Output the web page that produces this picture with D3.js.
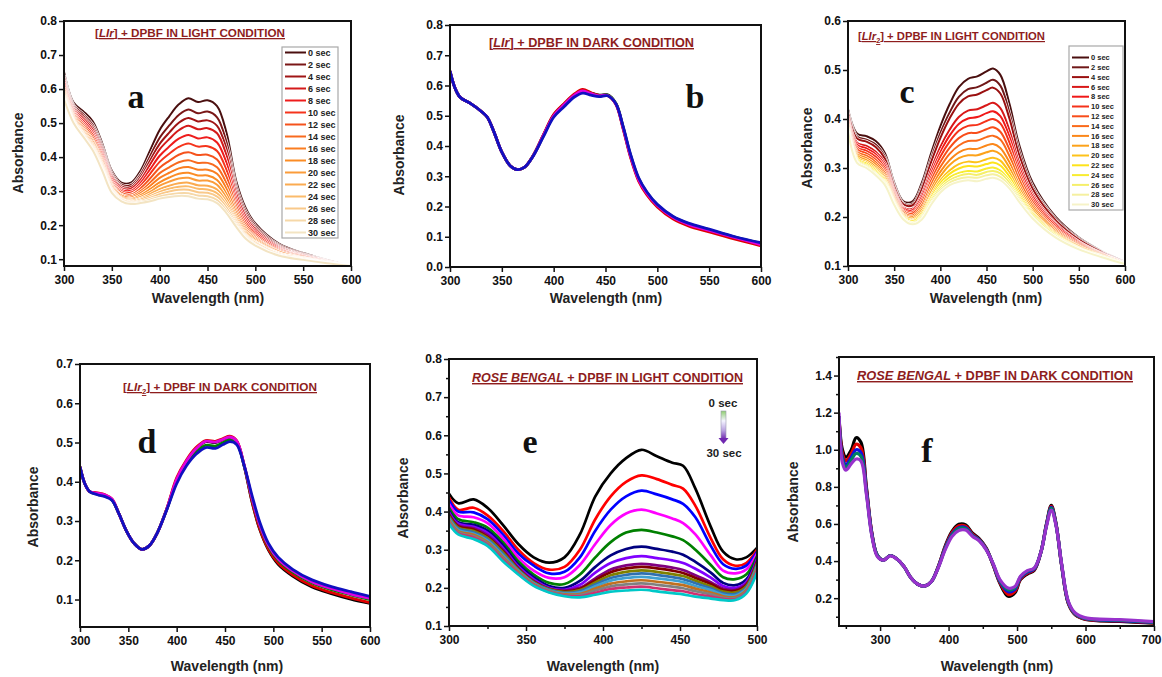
<!DOCTYPE html>
<html><head><meta charset="utf-8">
<script src="https://cdn.jsdelivr.net/npm/d3@7/dist/d3.min.js"></script>
<style>
body{margin:0;background:#fff}
svg{display:block;font-family:"Liberation Sans",Arial,sans-serif}
.tick text{font-weight:bold;font-size:12px;fill:#111}
.tick line{stroke:#111;stroke-width:1.5}
</style></head><body>
<svg id="fig" width="1162" height="677"></svg>
<script>
// ---------- shared labels ----------
const timeLabels = ["0 sec","2 sec","4 sec","6 sec","8 sec","10 sec","12 sec","14 sec","16 sec","18 sec","20 sec","22 sec","24 sec","26 sec","28 sec","30 sec"];

// ---------- panel a : [LIr] + DPBF light ----------
const aWavelength = [300,310,320,330,340,350,360,370,380,390,400,410,420,430,440,450,460,470,480,490,500,525,550,575,600];
const aSeries = [
 [0.65,0.56,0.535,0.505,0.44,0.36,0.325,0.325,0.36,0.42,0.48,0.52,0.555,0.573,0.562,0.567,0.55,0.47,0.33,0.25,0.205,0.145,0.118,0.098,0.08],
 [0.641,0.553,0.526,0.495,0.431,0.353,0.319,0.318,0.349,0.403,0.457,0.493,0.524,0.54,0.529,0.534,0.517,0.443,0.314,0.24,0.198,0.141,0.116,0.097,0.08],
 [0.634,0.548,0.52,0.488,0.424,0.347,0.314,0.312,0.341,0.39,0.439,0.472,0.501,0.515,0.505,0.508,0.492,0.423,0.303,0.232,0.192,0.138,0.114,0.096,0.08],
 [0.627,0.543,0.514,0.481,0.417,0.342,0.309,0.307,0.333,0.378,0.423,0.453,0.479,0.492,0.482,0.485,0.47,0.404,0.292,0.225,0.187,0.135,0.112,0.095,0.08],
 [0.62,0.537,0.507,0.473,0.41,0.336,0.304,0.301,0.324,0.364,0.404,0.431,0.454,0.465,0.455,0.458,0.443,0.382,0.279,0.216,0.181,0.132,0.11,0.094,0.08],
 [0.613,0.532,0.5,0.466,0.403,0.33,0.3,0.296,0.316,0.351,0.386,0.41,0.43,0.44,0.431,0.432,0.418,0.361,0.267,0.208,0.175,0.129,0.109,0.093,0.08],
 [0.606,0.527,0.494,0.458,0.396,0.324,0.295,0.29,0.308,0.337,0.369,0.389,0.407,0.414,0.406,0.407,0.393,0.341,0.256,0.2,0.169,0.126,0.107,0.092,0.08],
 [0.6,0.522,0.488,0.451,0.39,0.319,0.29,0.285,0.3,0.325,0.353,0.37,0.385,0.391,0.383,0.383,0.37,0.322,0.245,0.193,0.164,0.123,0.105,0.092,0.08],
 [0.594,0.518,0.483,0.446,0.384,0.315,0.287,0.281,0.294,0.315,0.339,0.354,0.367,0.371,0.363,0.363,0.351,0.306,0.236,0.187,0.16,0.121,0.104,0.091,0.08],
 [0.589,0.514,0.478,0.44,0.379,0.311,0.283,0.277,0.288,0.306,0.326,0.34,0.351,0.354,0.346,0.346,0.333,0.291,0.227,0.182,0.156,0.118,0.103,0.09,0.08],
 [0.585,0.511,0.474,0.436,0.375,0.307,0.28,0.274,0.283,0.298,0.316,0.328,0.337,0.339,0.331,0.331,0.319,0.279,0.22,0.177,0.152,0.117,0.102,0.09,0.08],
 [0.581,0.508,0.47,0.432,0.371,0.304,0.278,0.271,0.278,0.291,0.306,0.316,0.323,0.325,0.317,0.316,0.305,0.268,0.214,0.173,0.149,0.115,0.101,0.089,0.08],
 [0.578,0.506,0.468,0.429,0.368,0.302,0.276,0.268,0.275,0.285,0.298,0.307,0.313,0.314,0.307,0.305,0.294,0.259,0.209,0.169,0.147,0.114,0.1,0.089,0.08],
 [0.575,0.504,0.465,0.426,0.365,0.299,0.274,0.266,0.271,0.28,0.291,0.299,0.304,0.304,0.297,0.295,0.284,0.251,0.204,0.166,0.144,0.112,0.099,0.089,0.08],
 [0.572,0.502,0.462,0.423,0.362,0.297,0.272,0.264,0.268,0.275,0.284,0.29,0.294,0.294,0.287,0.285,0.274,0.242,0.199,0.163,0.142,0.111,0.099,0.088,0.08],
 [0.57,0.5,0.46,0.42,0.36,0.295,0.27,0.262,0.265,0.27,0.278,0.283,0.286,0.285,0.278,0.276,0.265,0.235,0.195,0.16,0.14,0.11,0.098,0.088,0.08]
];
const aColors = ["#4a0f0f","#7a1616","#a01515","#d41a1a","#ee1c1c","#f5341c","#f5521c","#f86a1f","#fa7d20","#fb8c25","#fb9c3a","#fbab50","#fbbb6b","#f9c98a","#f6d8a8","#f3e4c3"];

// ---------- panel b : [LIr] + DPBF dark ----------
const bWavelength = [300,305,310,320,330,336,342,350,358,365,372,380,390,400,410,420,428,436,444,452,460,467,474,482,490,500,515,530,550,575,600];
const bSeries = [
 [0.648,0.59,0.56,0.54,0.515,0.495,0.45,0.38,0.335,0.322,0.33,0.367,0.435,0.502,0.538,0.57,0.584,0.575,0.568,0.569,0.54,0.46,0.368,0.288,0.242,0.202,0.163,0.14,0.12,0.096,0.075],
 [0.648,0.59,0.56,0.54,0.515,0.495,0.45,0.38,0.335,0.322,0.33,0.367,0.436,0.504,0.54,0.572,0.587,0.576,0.567,0.567,0.538,0.457,0.364,0.284,0.238,0.198,0.159,0.136,0.116,0.092,0.07],
 [0.648,0.59,0.56,0.54,0.515,0.495,0.45,0.38,0.335,0.322,0.33,0.366,0.433,0.499,0.535,0.567,0.58,0.572,0.566,0.568,0.541,0.463,0.372,0.292,0.246,0.205,0.166,0.143,0.123,0.099,0.078],
 [0.648,0.59,0.56,0.54,0.515,0.495,0.45,0.38,0.335,0.322,0.33,0.366,0.434,0.5,0.536,0.568,0.582,0.573,0.566,0.567,0.539,0.46,0.369,0.289,0.243,0.203,0.164,0.141,0.121,0.097,0.074],
 [0.648,0.59,0.56,0.54,0.515,0.495,0.45,0.38,0.335,0.322,0.33,0.365,0.43,0.495,0.53,0.562,0.575,0.568,0.563,0.566,0.54,0.465,0.375,0.295,0.248,0.207,0.168,0.145,0.125,0.1,0.08]
];
const bColors = ["#000000","#e00000","#008000","#e000e0","#1010c0"];

// ---------- panel c : [LIr2] + DPBF light ----------
const cWavelength = [300,310,320,330,340,350,360,370,380,390,400,410,420,430,440,450,457,465,475,485,500,525,550,575,600];
const cSeries = [
 [0.42,0.37,0.365,0.355,0.33,0.27,0.232,0.232,0.27,0.33,0.385,0.43,0.465,0.482,0.487,0.497,0.503,0.49,0.43,0.35,0.27,0.2,0.158,0.13,0.108],
 [0.415,0.364,0.358,0.348,0.323,0.265,0.228,0.227,0.262,0.319,0.371,0.413,0.445,0.461,0.465,0.474,0.48,0.468,0.412,0.338,0.262,0.196,0.156,0.129,0.108],
 [0.412,0.36,0.354,0.343,0.319,0.262,0.226,0.224,0.257,0.312,0.361,0.401,0.431,0.446,0.45,0.459,0.464,0.452,0.4,0.329,0.257,0.193,0.154,0.128,0.107],
 [0.406,0.351,0.345,0.333,0.31,0.256,0.22,0.217,0.246,0.297,0.343,0.378,0.404,0.417,0.42,0.428,0.433,0.422,0.376,0.313,0.247,0.187,0.15,0.126,0.107],
 [0.402,0.347,0.34,0.328,0.305,0.252,0.218,0.214,0.241,0.289,0.332,0.366,0.39,0.401,0.404,0.412,0.416,0.406,0.363,0.304,0.242,0.184,0.149,0.125,0.106],
 [0.399,0.342,0.335,0.323,0.3,0.249,0.215,0.21,0.235,0.281,0.323,0.354,0.376,0.386,0.388,0.396,0.4,0.391,0.351,0.295,0.236,0.181,0.147,0.124,0.106],
 [0.396,0.338,0.33,0.317,0.295,0.246,0.212,0.207,0.23,0.274,0.312,0.341,0.361,0.371,0.372,0.379,0.383,0.374,0.337,0.287,0.231,0.177,0.145,0.124,0.106],
 [0.392,0.333,0.325,0.312,0.29,0.242,0.209,0.203,0.224,0.266,0.302,0.329,0.346,0.355,0.356,0.363,0.366,0.358,0.324,0.278,0.225,0.174,0.143,0.123,0.106],
 [0.389,0.329,0.32,0.307,0.285,0.239,0.206,0.2,0.218,0.257,0.292,0.316,0.332,0.339,0.339,0.346,0.349,0.341,0.311,0.268,0.22,0.171,0.141,0.122,0.105],
 [0.386,0.325,0.316,0.302,0.281,0.236,0.204,0.197,0.214,0.251,0.283,0.306,0.32,0.326,0.326,0.332,0.335,0.328,0.3,0.261,0.215,0.168,0.14,0.121,0.105],
 [0.383,0.321,0.312,0.298,0.277,0.233,0.202,0.194,0.209,0.244,0.275,0.295,0.308,0.313,0.312,0.318,0.321,0.315,0.29,0.254,0.21,0.166,0.138,0.12,0.105],
 [0.381,0.318,0.309,0.295,0.274,0.231,0.2,0.192,0.205,0.24,0.269,0.288,0.299,0.304,0.303,0.308,0.311,0.305,0.282,0.248,0.207,0.164,0.137,0.12,0.105],
 [0.379,0.316,0.306,0.292,0.271,0.229,0.198,0.189,0.202,0.235,0.263,0.281,0.29,0.294,0.293,0.299,0.301,0.295,0.274,0.243,0.204,0.162,0.136,0.119,0.104],
 [0.378,0.314,0.304,0.289,0.269,0.228,0.197,0.188,0.2,0.232,0.259,0.275,0.284,0.288,0.286,0.292,0.294,0.289,0.269,0.239,0.202,0.161,0.136,0.119,0.104],
 [0.376,0.312,0.302,0.287,0.267,0.226,0.196,0.186,0.197,0.228,0.254,0.27,0.278,0.281,0.28,0.285,0.287,0.282,0.263,0.236,0.199,0.159,0.135,0.118,0.104],
 [0.375,0.31,0.3,0.285,0.265,0.225,0.195,0.185,0.195,0.225,0.25,0.265,0.272,0.275,0.273,0.278,0.28,0.275,0.258,0.232,0.197,0.158,0.134,0.118,0.104]
];
const cColors = ["#4a0f0f","#701818","#9a1010","#d81818","#f01818","#f5321a","#f84d1a","#fa6a1a","#fb871a","#fca21a","#fdc21a","#fde31a","#f8ec30","#f5ef6a","#f5f0a0","#f6f3c8"];

// ---------- panel d : [LIr2] + DPBF dark ----------
const dWavelength = [300,305,310,318,326,333,340,348,356,364,372,380,390,400,410,420,430,440,448,455,462,470,478,486,495,505,520,540,560,580,600];
const dSeries = [
 [0.438,0.395,0.375,0.37,0.365,0.355,0.32,0.275,0.243,0.228,0.238,0.27,0.332,0.405,0.45,0.483,0.502,0.5,0.507,0.513,0.503,0.438,0.348,0.278,0.226,0.19,0.16,0.132,0.115,0.101,0.09],
 [0.438,0.395,0.375,0.372,0.367,0.356,0.32,0.275,0.243,0.228,0.238,0.27,0.333,0.41,0.455,0.487,0.505,0.503,0.51,0.516,0.505,0.44,0.35,0.28,0.228,0.193,0.163,0.135,0.118,0.104,0.092],
 [0.438,0.395,0.375,0.368,0.363,0.354,0.32,0.275,0.243,0.228,0.238,0.27,0.331,0.4,0.445,0.476,0.493,0.491,0.5,0.507,0.499,0.439,0.356,0.288,0.235,0.2,0.17,0.142,0.125,0.112,0.1],
 [0.438,0.395,0.375,0.371,0.366,0.356,0.32,0.275,0.243,0.228,0.238,0.27,0.332,0.406,0.452,0.484,0.503,0.501,0.508,0.514,0.504,0.441,0.358,0.29,0.238,0.203,0.173,0.145,0.128,0.114,0.103],
 [0.438,0.395,0.375,0.367,0.362,0.353,0.32,0.275,0.243,0.228,0.238,0.27,0.33,0.395,0.44,0.47,0.487,0.485,0.495,0.502,0.495,0.44,0.365,0.297,0.243,0.208,0.177,0.15,0.133,0.12,0.108]
];
const dColors = ["#000000","#e00000","#008000","#e000e0","#1010c0"];

// ---------- panel e : Rose Bengal + DPBF light ----------
const eWavelength = [300,306,316,325,335,345,355,365,375,385,395,405,415,425,435,445,452,460,470,478,486,493,500];
const eSeries = [
 [0.447,0.422,0.432,0.41,0.365,0.315,0.28,0.266,0.28,0.34,0.44,0.5,0.54,0.562,0.545,0.528,0.52,0.46,0.36,0.295,0.275,0.28,0.305],
 [0.437,0.405,0.41,0.39,0.35,0.3,0.265,0.248,0.255,0.3,0.38,0.44,0.478,0.495,0.485,0.47,0.46,0.415,0.33,0.275,0.258,0.265,0.3],
 [0.43,0.4,0.398,0.38,0.34,0.29,0.258,0.238,0.242,0.28,0.35,0.405,0.44,0.455,0.445,0.432,0.42,0.385,0.31,0.262,0.25,0.258,0.295],
 [0.42,0.39,0.385,0.37,0.33,0.28,0.245,0.226,0.228,0.26,0.315,0.365,0.395,0.405,0.395,0.382,0.37,0.34,0.285,0.245,0.238,0.248,0.29],
 [0.41,0.38,0.372,0.358,0.32,0.27,0.235,0.213,0.21,0.235,0.28,0.32,0.345,0.352,0.345,0.335,0.325,0.3,0.26,0.228,0.223,0.235,0.283],
 [0.402,0.372,0.365,0.35,0.312,0.262,0.228,0.205,0.2,0.218,0.255,0.285,0.302,0.308,0.302,0.295,0.287,0.268,0.24,0.213,0.207,0.222,0.278],
 [0.398,0.368,0.36,0.344,0.305,0.256,0.222,0.2,0.195,0.208,0.24,0.265,0.278,0.283,0.278,0.272,0.265,0.25,0.227,0.205,0.2,0.215,0.275],
 [0.394,0.364,0.356,0.338,0.3,0.252,0.218,0.198,0.193,0.2,0.225,0.248,0.259,0.263,0.259,0.253,0.247,0.233,0.215,0.198,0.195,0.21,0.272],
 [0.391,0.361,0.353,0.334,0.296,0.25,0.216,0.197,0.191,0.197,0.22,0.241,0.251,0.255,0.251,0.245,0.239,0.226,0.21,0.194,0.192,0.207,0.268],
 [0.388,0.358,0.349,0.331,0.293,0.248,0.215,0.196,0.189,0.194,0.214,0.233,0.242,0.246,0.242,0.236,0.231,0.219,0.204,0.19,0.188,0.204,0.264],
 [0.384,0.355,0.346,0.327,0.289,0.246,0.213,0.195,0.187,0.191,0.209,0.226,0.234,0.238,0.234,0.228,0.223,0.212,0.199,0.186,0.184,0.2,0.26],
 [0.381,0.352,0.342,0.324,0.285,0.244,0.212,0.193,0.185,0.188,0.204,0.219,0.226,0.229,0.225,0.22,0.215,0.205,0.194,0.182,0.18,0.197,0.256],
 [0.378,0.349,0.339,0.32,0.281,0.242,0.21,0.192,0.183,0.184,0.198,0.211,0.217,0.22,0.216,0.211,0.207,0.198,0.188,0.178,0.176,0.194,0.252],
 [0.375,0.346,0.335,0.317,0.278,0.239,0.208,0.191,0.181,0.181,0.193,0.204,0.209,0.212,0.208,0.203,0.199,0.191,0.183,0.174,0.173,0.191,0.248],
 [0.371,0.343,0.332,0.313,0.274,0.237,0.207,0.189,0.18,0.178,0.187,0.197,0.201,0.203,0.199,0.194,0.191,0.184,0.177,0.171,0.17,0.188,0.244],
 [0.368,0.34,0.328,0.31,0.27,0.235,0.205,0.188,0.178,0.175,0.182,0.19,0.193,0.195,0.191,0.186,0.183,0.177,0.172,0.168,0.168,0.185,0.24]
];
const eColors = ["#000000","#ff0000","#0000ff","#ff00ff","#008000","#000080","#8000ff","#800080","#800000","#808000","#3070b0","#40a0d0","#c07020","#808080","#d03070","#00c8c8"];
const eNote = ["0 sec","30 sec"];

// ---------- panel f : Rose Bengal + DPBF dark ----------
const fWavelength = [240,245,250,258,265,272,280,288,296,305,315,325,335,345,355,365,375,385,395,405,415,425,435,445,455,465,475,487,497,505,515,525,535,543,550,557,565,575,585,600,650,700];
const fSeries = [
 [1.18,1.0,0.96,1.0,1.065,1.04,0.8,0.55,0.43,0.405,0.43,0.41,0.37,0.31,0.275,0.265,0.29,0.37,0.48,0.56,0.598,0.595,0.55,0.52,0.47,0.38,0.28,0.21,0.23,0.3,0.33,0.35,0.45,0.6,0.7,0.6,0.38,0.17,0.11,0.085,0.075,0.065],
 [1.18,0.98,0.94,0.98,1.03,1.01,0.79,0.55,0.43,0.405,0.43,0.41,0.37,0.31,0.275,0.265,0.29,0.37,0.475,0.553,0.59,0.588,0.545,0.516,0.467,0.38,0.285,0.22,0.238,0.305,0.335,0.353,0.45,0.598,0.695,0.598,0.38,0.172,0.112,0.087,0.077,0.067],
 [1.18,0.96,0.92,0.96,1.0,0.985,0.78,0.545,0.43,0.405,0.43,0.41,0.37,0.31,0.275,0.265,0.29,0.368,0.47,0.545,0.58,0.58,0.54,0.513,0.465,0.383,0.29,0.235,0.248,0.31,0.34,0.356,0.45,0.595,0.69,0.596,0.382,0.175,0.114,0.089,0.079,0.069],
 [1.18,0.945,0.905,0.945,0.98,0.965,0.77,0.54,0.43,0.405,0.43,0.41,0.37,0.31,0.275,0.265,0.29,0.366,0.466,0.54,0.575,0.575,0.537,0.511,0.463,0.385,0.295,0.245,0.255,0.315,0.345,0.36,0.45,0.592,0.685,0.594,0.385,0.178,0.116,0.091,0.081,0.071],
 [1.2,0.93,0.89,0.925,0.95,0.94,0.76,0.535,0.425,0.405,0.428,0.41,0.37,0.31,0.275,0.265,0.29,0.364,0.46,0.533,0.565,0.567,0.533,0.508,0.46,0.387,0.3,0.255,0.263,0.318,0.348,0.362,0.45,0.588,0.675,0.59,0.388,0.182,0.12,0.094,0.084,0.074]
];
const fColors = ["#000000","#e00000","#1010e0","#008060","#9932cc"];

// ---------- axis ticks ----------
const ticksA_y = [0.1,0.2,0.3,0.4,0.5,0.6,0.7,0.8];
const ticksB_y = [0.0,0.1,0.2,0.3,0.4,0.5,0.6,0.7,0.8];
const ticksC_y = [0.1,0.2,0.3,0.4,0.5,0.6];
const ticksD_y = [0.1,0.2,0.3,0.4,0.5,0.6,0.7];
const ticksE_y = [0.1,0.2,0.3,0.4,0.5,0.6,0.7,0.8];
const ticksF_y = [0.2,0.4,0.6,0.8,1.0,1.2,1.4];
const ticks300_600 = [300,350,400,450,500,550,600];
const ticks300_500 = [300,350,400,450,500];
const ticks300_700 = [300,400,500,600,700];

// ---------- drawing ----------
const svg = d3.select("#fig");
const defs = svg.append("defs");
const TITLE_COLOR = "#8e1d1d";

function drawPanel(o){
  const g = svg.append("g");
  const x = d3.scaleLinear().domain(o.xDomain).range([o.box[0], o.box[1]]);
  const y = d3.scaleLinear().domain(o.yDomain).range([o.box[3], o.box[2]]);
  const cid = "clip-" + o.id;
  defs.append("clipPath").attr("id", cid).append("rect")
    .attr("x", o.box[0]).attr("y", o.box[2])
    .attr("width", o.box[1]-o.box[0]).attr("height", o.box[3]-o.box[2]);

  const curves = g.append("g").attr("clip-path", `url(#${cid})`);
  const line = d3.line()
    .x((d,i) => x(o.wl[i]))
    .y(d => y(d))
    .curve(d3.curveCatmullRom.alpha(0.5));
  o.series.forEach((s,i) => {
    if (o.halo) curves.append("path").attr("d", line(s)).attr("fill","none")
      .attr("stroke","#fff").attr("stroke-width", o.halo);
    curves.append("path").attr("d", line(s)).attr("fill","none")
      .attr("stroke", o.colors[i]).attr("stroke-width", o.lw)
      .attr("stroke-linejoin","round");
  });

  // axes
  const xa = g.append("g").attr("transform", `translate(0,${o.box[3]})`)
    .call(d3.axisBottom(x).tickValues(o.xTicks).tickSize(5).tickPadding(4).tickFormat(d3.format("d")));
  const ya = g.append("g").attr("transform", `translate(${o.box[0]},0)`)
    .call(d3.axisLeft(y).tickValues(o.yTicks).tickSize(5).tickPadding(2).tickFormat(d3.format(".1f")));
  xa.select(".domain").remove(); ya.select(".domain").remove();
  if (o.lastXLabelEnd) {
    xa.selectAll(".tick text").filter(d => d === o.xTicks[o.xTicks.length-1])
      .attr("text-anchor","end").attr("x", o.lastXLabelEnd);
  }
  if (o.xMinor) {
    const m = g.append("g").attr("transform", `translate(0,${o.box[3]})`)
      .call(d3.axisBottom(x).tickValues(o.xMinor).tickSize(3).tickFormat(""));
    m.select(".domain").remove();
  }
  if (o.yMinor) {
    const m = g.append("g").attr("transform", `translate(${o.box[0]},0)`)
      .call(d3.axisLeft(y).tickValues(o.yMinor).tickSize(3).tickFormat(""));
    m.select(".domain").remove();
  }
  // frame
  g.append("rect").attr("x", o.box[0]).attr("y", o.box[2])
    .attr("width", o.box[1]-o.box[0]).attr("height", o.box[3]-o.box[2])
    .attr("fill","none").attr("stroke","#111").attr("stroke-width",2);

  // axis titles
  g.append("text").attr("x", o.xLabel[0]).attr("y", o.xLabel[1])
    .attr("text-anchor","middle").attr("font-weight","bold").attr("font-size",14)
    .attr("fill","#222").text("Wavelength (nm)");
  g.append("text").attr("transform", `translate(${o.yLabel[0]},${o.yLabel[1]}) rotate(-90)`)
    .attr("text-anchor","middle").attr("font-weight","bold").attr("font-size",14)
    .attr("fill","#222").text("Absorbance");

  // title
  const t = g.append("text").attr("x", o.title.x).attr("y", o.title.y)
    .attr("font-weight","bold").attr("font-size", o.title.size)
    .attr("fill", TITLE_COLOR).attr("text-decoration","underline")
    .attr("textLength", o.title.w).attr("lengthAdjust","spacingAndGlyphs");
  o.title.parts.forEach(p => {
    const ts = t.append("tspan").text(p[0]).attr("text-decoration","underline");
    if (p[1] === "i") ts.attr("font-style","italic");
    if (p[1] === "sub") ts.attr("font-size", o.title.size*0.65).attr("dy", 3);
    if (p[1] === "unsub") ts.attr("dy", -3);
  });

  // panel letter
  g.append("text").attr("x", o.letter[1]).attr("y", o.letter[2])
    .attr("text-anchor","middle")
    .attr("font-family","'Liberation Serif','Times New Roman',serif")
    .attr("font-weight","bold").attr("font-size",34).attr("fill","#111")
    .text(o.letter[0]);

  // legend
  if (o.legend) {
    const L = o.legend;
    const lg = g.append("g");
    lg.append("rect").attr("x", L.x).attr("y", L.y).attr("width", L.w).attr("height", L.h)
      .attr("fill","#fff").attr("stroke","#a8a8a8").attr("stroke-width",1.2);
    o.labels.forEach((lab,i) => {
      const yy = L.y0 + i*L.dy;
      lg.append("line").attr("x1", L.lx1).attr("x2", L.lx2).attr("y1", yy).attr("y2", yy)
        .attr("stroke", o.colors[i]).attr("stroke-width", 2);
      lg.append("text").attr("x", L.lx2 + 2).attr("y", yy).attr("dy","0.35em")
        .attr("font-size", L.fs).attr("font-weight","bold").attr("fill","#222").text(lab);
    });
  }
  return {x, y, g};
}

const titleLight1 = [["[",""],["LIr","i"],["]",""],[" + DPBF IN LIGHT CONDITION",""]];
const titleDark1  = [["[",""],["LIr","i"],["]",""],[" + DPBF IN DARK CONDITION",""]];
const titleLight2 = [["[",""],["LIr","i"],["2","sub"],["]","unsub"],[" + DPBF IN LIGHT CONDITION",""]];
const titleDark2  = [["[",""],["LIr","i"],["2","sub"],["]","unsub"],[" + DPBF IN DARK CONDITION",""]];
const titleRBLight = [["ROSE BENGAL","i"],[" + DPBF IN LIGHT CONDITION",""]];
const titleRBDark  = [["ROSE BENGAL","i"],[" + DPBF IN DARK CONDITION",""]];

drawPanel({id:"a", box:[64,351,21,266], xDomain:[300,600], yDomain:[0.08,0.8],
  wl:aWavelength, series:aSeries, colors:aColors, labels:timeLabels, lw:2, halo:3.4,
  xTicks:ticks300_600, yTicks:ticksA_y,
  xLabel:[208,303], yLabel:[23,153],
  title:{x:95,y:37,size:11.5,w:190,parts:titleLight1}, letter:["a",136,108],
  legend:{x:282,y:47,w:56,h:191,y0:52.5,dy:12.0,lx1:285,lx2:306,fs:9}});

drawPanel({id:"b", box:[450,761,25,267], xDomain:[300,600], yDomain:[0,0.8],
  wl:bWavelength, series:bSeries, colors:bColors, lw:2.8,
  xTicks:ticks300_600, yTicks:ticksB_y,
  xLabel:[606,303], yLabel:[404,155],
  title:{x:489,y:47,size:12.5,w:205,parts:titleDark1}, letter:["b",695,108]});

drawPanel({id:"c", box:[848,1125,21,266], xDomain:[300,600], yDomain:[0.1,0.6],
  wl:cWavelength, series:cSeries, colors:cColors, labels:timeLabels, lw:2, halo:3.2,
  xTicks:ticks300_600, yTicks:ticksC_y,
  xLabel:[986,303], yLabel:[812,148],
  title:{x:858,y:40,size:11,w:187,parts:titleLight2}, letter:["c",907,103],
  legend:{x:1069,y:46,w:54,h:164,y0:57.5,dy:9.8,lx1:1072,lx2:1089,fs:7.5}});

drawPanel({id:"d", box:[80,370,364,627], xDomain:[300,600], yDomain:[0.03,0.7],
  wl:dWavelength, series:dSeries, colors:dColors, lw:2.8,
  xTicks:ticks300_600, yTicks:ticksD_y,
  xLabel:[227,671], yLabel:[38,507],
  title:{x:123,y:391,size:11.5,w:194,parts:titleDark2}, letter:["d",147,453]});

const pe = drawPanel({id:"e", box:[449,757,359,626], xDomain:[300,500], yDomain:[0.1,0.8],
  wl:eWavelength, series:eSeries, colors:eColors, lw:2.7,
  xTicks:ticks300_500, yTicks:ticksE_y,
  xMinor:[325,375,425,475], yMinor:[0.15,0.25,0.35,0.45,0.55,0.65,0.75],
  xLabel:[603,671], yLabel:[408,498],
  title:{x:472,y:382,size:12.5,w:271,parts:titleRBLight}, letter:["e",530,453]});

// e: time indicator
const grad = defs.append("linearGradient").attr("id","eGrad").attr("x1",0).attr("y1",0).attr("x2",0).attr("y2",1);
grad.append("stop").attr("offset","0%").attr("stop-color","#8fcf70");
grad.append("stop").attr("offset","35%").attr("stop-color","#f4f4ff");
grad.append("stop").attr("offset","70%").attr("stop-color","#b8a0e0");
grad.append("stop").attr("offset","100%").attr("stop-color","#7028b0");
pe.g.append("rect").attr("x",721).attr("y",411).attr("width",5).attr("height",28)
  .attr("fill","url(#eGrad)").attr("stroke","#9a9ab0").attr("stroke-width",0.6);
pe.g.append("path").attr("d","M718.5,438 L728.5,438 L723.5,444 Z").attr("fill","#7028b0");
pe.g.append("text").attr("x",723).attr("y",407).attr("text-anchor","middle")
  .attr("font-weight","bold").attr("font-size",11.5).attr("fill","#222").text(eNote[0]);
pe.g.append("text").attr("x",724).attr("y",457).attr("text-anchor","middle")
  .attr("font-weight","bold").attr("font-size",11.5).attr("fill","#222").text(eNote[1]);

drawPanel({id:"f", box:[839,1154,357,626], xDomain:[240,700], yDomain:[0.05,1.5],
  wl:fWavelength, series:fSeries, colors:fColors, lw:3.2,
  xTicks:ticks300_700, yTicks:ticksF_y, lastXLabelEnd:7,
  xMinor:[250,350,450,550,650], yMinor:[0.1,0.3,0.5,0.7,0.9,1.1,1.3,1.5],
  xLabel:[997,671], yLabel:[798,502],
  title:{x:857,y:380,size:12.5,w:276,parts:titleRBDark}, letter:["f",927,462]});
</script>
</body></html>
